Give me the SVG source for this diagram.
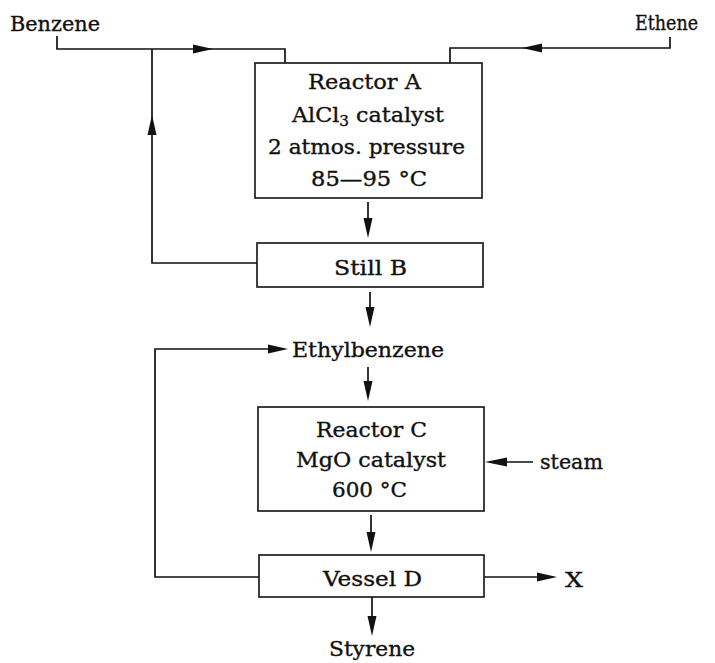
<svg xmlns="http://www.w3.org/2000/svg" width="715" height="663" viewBox="0 0 715 663">
<style>
  .box { fill: #ffffff; stroke: #111111; stroke-width: 1.6; }
  .ln { fill: none; stroke: #111111; stroke-width: 1.7; }
  .ah { fill: #111111; stroke: none; }
  text { font-family: "DejaVu Serif", "Liberation Serif", serif; font-size: 20.5px; fill: #111111; stroke: #111111; stroke-width: 0.35; }
</style>
<rect width="715" height="663" fill="#ffffff"/>
<g id="connectors">
  <polyline class="ln" points="57,36 57,49 285,49 285,63"/>
  <polygon class="ah" points="213,49 193,44.5 193,53.5"/>
  <polyline class="ln" points="670,37 670,48 450,48 450,63"/>
  <polygon class="ah" points="522,48 542,43.5 542,52.5"/>
  <polyline class="ln" points="257,263 152,263 152,49"/>
  <polygon class="ah" points="152,115 147.5,135 156.5,135"/>
  <line class="ln" x1="368" y1="202" x2="368" y2="222"/>
  <polygon class="ah" points="368,238 363.5,218 372.5,218"/>
  <line class="ln" x1="370" y1="292" x2="370" y2="310"/>
  <polygon class="ah" points="370,327 365.5,307 374.5,307"/>
  <polyline class="ln" points="259,577 155,577 155,349 272,349"/>
  <polygon class="ah" points="288,349 268,344.5 268,353.5"/>
  <line class="ln" x1="368" y1="367" x2="368" y2="385"/>
  <polygon class="ah" points="368,401 363.5,381 372.5,381"/>
  <line class="ln" x1="500" y1="462" x2="533" y2="462"/>
  <polygon class="ah" points="485,462 507,457.5 507,466.5"/>
  <line class="ln" x1="371" y1="515" x2="371" y2="535"/>
  <polygon class="ah" points="371,552 366.5,532 375.5,532"/>
  <line class="ln" x1="484" y1="577" x2="540" y2="577"/>
  <polygon class="ah" points="557,577 537,572.5 537,581.5"/>
  <line class="ln" x1="372" y1="597" x2="372" y2="620"/>
  <polygon class="ah" points="372,636 367.5,616 376.5,616"/>
</g>
<g id="benzene"><text x="10" y="31" textLength="90" lengthAdjust="spacingAndGlyphs">Benzene</text></g>
<g id="ethene"><text x="635" y="30" textLength="63" lengthAdjust="spacingAndGlyphs">Ethene</text></g>
<g id="reactorA">
  <rect class="box" x="255" y="63" width="227" height="135"/>
  <text x="308" y="89" textLength="113" lengthAdjust="spacingAndGlyphs">Reactor A</text>
  <text x="292" y="122" textLength="152" lengthAdjust="spacingAndGlyphs">AlCl<tspan font-size="14" dy="4">3</tspan><tspan dy="-4"> catalyst</tspan></text>
  <text x="268" y="154" textLength="197" lengthAdjust="spacingAndGlyphs">2 atmos. pressure</text>
  <text x="311" y="186" textLength="116" lengthAdjust="spacingAndGlyphs">85—95 °C</text>
</g>
<g id="stillB">
  <rect class="box" x="257" y="243" width="226" height="44"/>
  <text x="334" y="275" textLength="73" lengthAdjust="spacingAndGlyphs">Still B</text>
</g>
<g id="ethylbenzene"><text x="292" y="357" textLength="152" lengthAdjust="spacingAndGlyphs">Ethylbenzene</text></g>
<g id="reactorC">
  <rect class="box" x="258" y="407" width="226" height="104"/>
  <text x="316" y="437" textLength="111" lengthAdjust="spacingAndGlyphs">Reactor C</text>
  <text x="296" y="467" textLength="150" lengthAdjust="spacingAndGlyphs">MgO catalyst</text>
  <text x="332" y="497" textLength="75" lengthAdjust="spacingAndGlyphs">600 °C</text>
</g>
<g id="steam"><text x="540" y="469" textLength="63" lengthAdjust="spacingAndGlyphs">steam</text></g>
<g id="vesselD">
  <rect class="box" x="259" y="555" width="225" height="42"/>
  <text x="323" y="586" textLength="99" lengthAdjust="spacingAndGlyphs">Vessel D</text>
</g>
<g id="x"><text x="565" y="587" textLength="18" lengthAdjust="spacingAndGlyphs">X</text></g>
<g id="styrene"><text x="329" y="656" textLength="86" lengthAdjust="spacingAndGlyphs">Styrene</text></g>
</svg>
